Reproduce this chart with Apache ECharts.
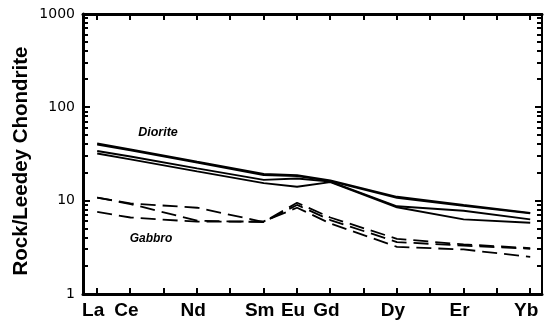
<!DOCTYPE html>
<html>
<head>
<meta charset="utf-8">
<style>
  html, body { margin: 0; padding: 0; background: #fff; }
  #wrap { position: relative; width: 546px; height: 325px; }
  #chart { position: absolute; left: 0; top: 0; width: 546px; height: 325px; }
  #ticks { position: absolute; left: 0; top: 0; width: 546px; height: 325px; pointer-events: none; }
  .tk { position: absolute; background: #000; }
</style>
<script src="https://cdn.jsdelivr.net/npm/echarts@6.0.0/dist/echarts.min.js"></script>
</head>
<body>
<div id="wrap">
  <div id="chart"></div>
  <div id="ticks"></div>
</div>
<script>
// Elements (atomic numbers) where values are plotted
var elements = ['La', 'Ce', 'Nd', 'Sm', 'Eu', 'Gd', 'Dy', 'Er', 'Yb'];
var atomicNumbers = [57, 58, 60, 62, 63, 64, 66, 68, 70];
// x tick marks (every REE from La to Yb)
var tickAtoms = [57, 58, 59, 60, 61, 62, 63, 64, 65, 66, 67, 68, 69, 70];
// y tick labels
var yTickLabels = [1, 10, 100, 1000];

// Diorite samples (solid lines)
var diorite1 = [41, 35.4, 26.1, 19.3, 18.8, 16.5, 11.0, 9.0, 7.4];
var diorite2 = [40, 34.6, 25.6, 18.8, 18.3, 16.2, 10.7, 8.8, 7.3];
var diorite3 = [34, 29.7, 22.2, 16.7, 17.3, 16.0, 8.7, 7.8, 6.3];
var diorite4 = [32, 27.7, 20.6, 15.4, 14.1, 15.8, 8.5, 6.3, 5.8];

// Gabbro samples (dashed lines)
var gabbro1 = [10.8, 9.35, 8.4, 5.9, 9.5, 6.6, 3.9, 3.4, 3.1];
var gabbro2 = [10.8, 9.2, 6.1, 5.9, 9.0, 6.2, 3.6, 3.3, 3.05];
var gabbro3 = [7.6, 6.6, 5.95, 6.0, 8.4, 5.7, 3.2, 3.0, 2.5];

var labelMap = {};
atomicNumbers.forEach(function (a, i) { labelMap[a] = elements[i]; });

// log ticks 1..9, 10..90, 100..900, 1000
var yTicks = [];
[1, 10, 100].forEach(function (d) {
  for (var k = 1; k <= 9; k++) yTicks.push(k * d);
});
yTicks.push(1000);

var xMin = 56.574, xMax = 70.354;

function pairs(vals) {
  return vals.map(function (v, i) { return [atomicNumbers[i], v]; });
}

function lineSeries(vals, dashed) {
  return {
    type: 'line',
    data: pairs(vals),
    showSymbol: false,
    symbol: 'none',
    silent: true,
    lineStyle: {
      color: '#000',
      width: dashed ? 1.8 : 1.9,
      type: dashed ? [15, 7] : 'solid'
    },
    z: 3
  };
}

var chart = echarts.init(document.getElementById('chart'), null, { renderer: 'canvas' });
chart.setOption({
  animation: false,
  grid: { left: 83, right: 4, top: 14, bottom: 31, containLabel: false },
  xAxis: [
    {
      type: 'value', min: xMin, max: xMax, position: 'bottom',
      axisLine: { show: true, onZero: false, lineStyle: { color: '#000', width: 3 } },
      axisTick: { show: false },
      axisLabel: {
        show: true, customValues: atomicNumbers,
        formatter: function (v) { return labelMap[v] || ''; },
        color: '#000', fontFamily: 'Liberation Sans, Arial, sans-serif',
        fontWeight: 'bold', fontSize: 19, margin: 7, padding: [0, 8, 0, 0]
      },
      splitLine: { show: false }
    },
    {
      type: 'value', min: xMin, max: xMax, position: 'top',
      axisLine: { show: true, onZero: false, lineStyle: { color: '#000', width: 3 } },
      axisTick: { show: false },
      axisLabel: { show: false },
      splitLine: { show: false }
    }
  ],
  yAxis: [
    {
      type: 'log', logBase: 10, min: 1, max: 1000, position: 'left',
      axisLine: { show: true, onZero: false, lineStyle: { color: '#000', width: 3 } },
      axisTick: { show: false },
      axisLabel: {
        show: true, customValues: yTickLabels,
        formatter: function (v) { return String(Math.round(v)); },
        color: '#000', fontFamily: 'DejaVu Sans, sans-serif', fontSize: 14, margin: 8
      },
      splitLine: { show: false }
    },
    {
      type: 'log', logBase: 10, min: 1, max: 1000, position: 'right',
      axisLine: { show: true, onZero: false, lineStyle: { color: '#000', width: 2 } },
      axisTick: { show: false },
      axisLabel: { show: false },
      splitLine: { show: false }
    }
  ],
  series: [
    lineSeries(diorite1, false),
    lineSeries(diorite2, false),
    lineSeries(diorite3, false),
    lineSeries(diorite4, false),
    lineSeries(gabbro1, true),
    lineSeries(gabbro2, true),
    lineSeries(gabbro3, true)
  ],
  graphic: [
    {
      type: 'text', x: 21, y: 161, rotation: Math.PI / 2,
      style: {
        text: 'Rock/Leedey Chondrite', fill: '#000',
        font: 'bold 20.5px "Liberation Sans", Arial, sans-serif',
        align: 'center', verticalAlign: 'middle'
      }
    },
    {
      type: 'text', x: 158, y: 133,
      style: {
        text: 'Diorite', fill: '#000',
        font: 'italic bold 12.5px "Liberation Sans", Arial, sans-serif',
        align: 'center', verticalAlign: 'middle'
      }
    },
    {
      type: 'text', x: 151, y: 239,
      style: {
        text: 'Gabbro', fill: '#000',
        font: 'italic bold 12px "Liberation Sans", Arial, sans-serif',
        align: 'center', verticalAlign: 'middle'
      }
    }
  ]
});

// Tick marks: positions from the chart's own scales, drawn as a thin HTML overlay
var tickLayer = document.getElementById('ticks');
function addTick(left, top, w, h) {
  var d = document.createElement('div');
  d.className = 'tk';
  d.style.left = left + 'px';
  d.style.top = top + 'px';
  d.style.width = w + 'px';
  d.style.height = h + 'px';
  tickLayer.appendChild(d);
}
function toPx(x, y) {
  return chart.convertToPixel({ gridIndex: 0 }, [x, y]);
}
tickAtoms.forEach(function (a) {
  var b = toPx(a, 1);
  var t = toPx(a, 1000);
  addTick(Math.round(b[0]) - 1, Math.round(b[1]) - 6, 2, 6);
  addTick(Math.round(t[0]) - 1, Math.round(t[1]), 2, 6);
});
yTicks.forEach(function (v) {
  var l = toPx(xMin, v);
  var r = toPx(xMax, v);
  var len = (v === 10 || v === 100) ? 7 : 5;
  var yy = Math.round(l[1]) - 1;
  addTick(Math.round(l[0]), yy, len, 2);
  addTick(Math.round(r[0]) - len, yy, len, 2);
});
</script>
</body>
</html>
